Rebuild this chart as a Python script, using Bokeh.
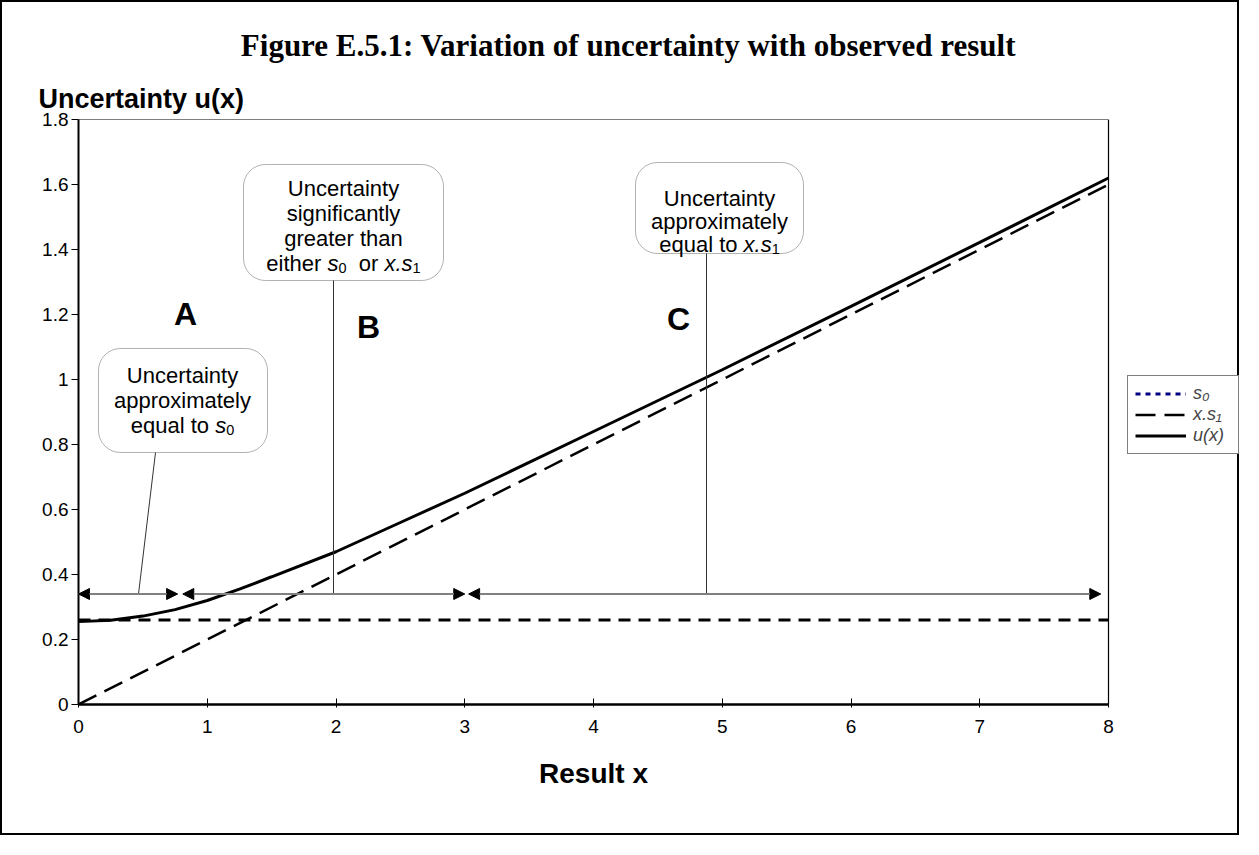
from bokeh.plotting import figure
from bokeh.models import (Label, Arrow, NormalHead, BoxAnnotation, Legend, LegendItem,
                          FixedTicker, Range1d, Title)
from bokeh.embed import file_html
from bokeh.resources import INLINE

# ---------------- data ----------------
x_vals = [0.0, 0.25, 0.5, 0.75, 1.0, 1.25, 1.5, 2.0, 2.5, 3.0, 3.5, 4.0, 5.0, 6.0, 7.0, 8.0]
u_vals = [0.255, 0.259, 0.272, 0.292, 0.32, 0.355, 0.393, 0.47, 0.56, 0.65, 0.745, 0.84, 1.03, 1.225, 1.422, 1.62]

s0_x = [0.0, 8.0]
s0_y = [0.26, 0.26]

xs1_x = [0, 1, 2, 3, 4, 5, 6, 7, 8]
xs1_y = [0.0, 0.2, 0.4, 0.6, 0.8, 1.0, 1.2, 1.4, 1.6]

x_ticks = [0, 1, 2, 3, 4, 5, 6, 7, 8]
x_tick_labels = ["0", "1", "2", "3", "4", "5", "6", "7", "8"]
y_ticks = [0, 0.2, 0.4, 0.6, 0.8, 1.0, 1.2, 1.4, 1.6, 1.8]
y_tick_labels = ["0", "0.2", "0.4", "0.6", "0.8", "1", "1.2", "1.4", "1.6", "1.8"]

chart_title = "Figure E.5.1: Variation of uncertainty with observed result"
y_title = "Uncertainty u(x)"
x_title = "Result x"
legend_labels = ["s\u2080", "x.s\u2081", "u(x)"]
region_letters = ["A", "B", "C"]
region_starts = [0.0, 0.81, 3.03]
region_ends = [0.77, 3.0, 7.94]
arrow_level = 0.34

X_MIN, X_MAX = x_ticks[0], x_ticks[-1]
Y_MIN, Y_MAX = y_ticks[0], y_ticks[-1]

# ---------------- layout helpers (picture pixel -> data) ----------------
FL, FR, FT, FB = 78, 1108, 119, 704        # plot-area edges in the picture
XU = (FR - FL) / (X_MAX - X_MIN)
YU = (FB - FT) / (Y_MAX - Y_MIN)


def px2x(px):
    return X_MIN + (px - FL) / XU


def py2y(py):
    return Y_MIN + (FB - py) / YU


W, H = 1239, 835
OFF = 2            # canvas offset inside the 2px border
FR_EXT = 1239      # the drawing frame reaches further right so the key can sit there

p = figure(width=W, height=H, output_backend="svg", toolbar_location=None, title=None,
           x_range=Range1d(X_MIN, px2x(FR_EXT)), y_range=Range1d(Y_MIN, Y_MAX),
           min_border_left=FL - OFF, min_border_right=W - (FR_EXT - OFF),
           min_border_top=FT - OFF, min_border_bottom=H - (FB - OFF))
p.styles = {"border": "2px solid black"}
p.background_fill_color = "white"
p.border_fill_color = "white"
p.outline_line_color = None
p.xgrid.visible = False
p.ygrid.visible = False

# ---------------- text metrics ----------------
REG = {' ': 278, '.': 278, ':': 278, '(': 333, ')': 333, '0': 556, '1': 556,
       'a': 556, 'b': 556, 'c': 500, 'd': 556, 'e': 556, 'f': 278, 'g': 556, 'h': 556,
       'i': 222, 'l': 222, 'm': 833, 'n': 556, 'o': 556, 'p': 556, 'q': 556, 'r': 333,
       's': 500, 't': 278, 'u': 556, 'x': 500, 'y': 500, 'U': 722, 'R': 722}
BLD = {' ': 278, 'R': 722, 'e': 556, 's': 556, 'u': 611, 'l': 278, 't': 333, 'x': 556}
SANS = "Liberation Sans"


def tw(s, size, table=REG):
    return sum(table.get(ch, 556) for ch in s) / 1000.0 * size


# titles (stacked outward from the frame)
TITLE_SIZE = 31
title_w = 25.14 * TITLE_SIZE
p.add_layout(Title(text=y_title, align="left", offset=38 - FL, standoff=11,
                   text_font=SANS, text_font_style="bold",
                   text_font_size="27px", text_color="black"), "above")
p.add_layout(Title(text=chart_title, align="left", offset=630 - title_w / 2 - FL, standoff=27,
                   text_font="Liberation Serif", text_font_style="bold",
                   text_font_size=f"{TITLE_SIZE}px", text_color="black"), "above")

# axes
p.xaxis.bounds = (X_MIN, X_MAX)
p.xaxis.ticker = FixedTicker(ticks=x_ticks)
p.xaxis.major_label_overrides = {t: l for t, l in zip(x_ticks, x_tick_labels)}
p.yaxis.ticker = FixedTicker(ticks=y_ticks)
p.yaxis.major_label_overrides = {t: l for t, l in zip(y_ticks, y_tick_labels)}
for ax in (p.xaxis, p.yaxis):
    ax.major_label_text_font = SANS
    ax.major_label_text_font_size = "19px"
    ax.major_label_text_color = "black"
    ax.minor_tick_line_color = None
    ax.major_tick_line_color = "black"
    ax.axis_line_color = "black"
p.xaxis.axis_line_width = 2.5
p.xaxis.major_tick_in = 6
p.xaxis.major_tick_out = 3
p.xaxis.major_label_standoff = 12
p.yaxis.axis_line_width = 2
p.yaxis.major_tick_in = 0
p.yaxis.major_tick_out = 7
p.yaxis.major_label_standoff = 3

XT_SIZE = 28
p.add_layout(Title(text=x_title, align="left",
                   offset=(FL + FR) / 2 - tw(x_title, XT_SIZE, BLD) / 2 - FL, standoff=40,
                   text_font=SANS, text_font_style="bold",
                   text_font_size=f"{XT_SIZE}px", text_color="black"), "below")

# plot-area border (top and right edges)
p.segment(x0=[X_MIN, X_MAX], y0=[Y_MAX, Y_MIN], x1=[X_MAX, X_MAX], y1=[Y_MAX, Y_MAX],
          line_color="black", line_width=1.2)

# series
r_s0 = p.line(s0_x, s0_y, line_color="black", line_width=3, line_dash="12 8")
r_xs1 = p.line(xs1_x, xs1_y, line_color="black", line_width=2.5, line_dash="20 9")
r_u = p.line(x_vals, u_vals, line_color="black", line_width=3)
# key swatch for s0 (navy dotted in the legend)
r_s0_key = p.line([s0_x[0]], [float("nan")], line_color="#000080", line_width=3, line_dash="5 5")

legend = Legend(items=[LegendItem(label=legend_labels[0], renderers=[r_s0_key]),
                       LegendItem(label=legend_labels[1], renderers=[r_xs1]),
                       LegendItem(label=legend_labels[2], renderers=[r_u])],
                location=(1127 - FL, FB - 454), orientation="vertical",
                border_line_color="black", border_line_width=1,
                background_fill_color="white", background_fill_alpha=1.0,
                padding=7, spacing=0, margin=0,
                glyph_width=51, glyph_height=19, label_height=19, label_width=38,
                label_standoff=7, label_text_font=SANS,
                label_text_font_size="18px", label_text_font_style="italic")
p.add_layout(legend, "center")


def put(px, py, txt, size, style="normal", align="left", font=SANS):
    p.add_layout(Label(x=px2x(px), y=py2y(py), text=txt, text_font=font,
                       text_font_size=f"{size:.1f}px", text_font_style=style,
                       text_align=align, text_baseline="alphabetic", text_color="black"))


def rich(parts, size, cy, cx):
    """parts: list of (text, kind); kind in n, i, sub. Spaces only advance the pen."""
    widths = [tw(t, size * 0.66 if k == "sub" else size) for t, k in parts]
    x = cx - sum(widths) / 2
    for (t, k), w in zip(parts, widths):
        fs = size * 0.66 if k == "sub" else size
        lead = len(t) - len(t.lstrip(" "))
        core = t.strip(" ")
        if core:
            xx = x + tw(" " * lead, fs)
            if k == "sub":
                put(xx, cy + 0.2 * size, core, fs, "normal")
            else:
                put(xx, cy, core, fs, "italic" if k == "i" else "normal")
        x += w


# ---------------- callout boxes ----------------
BOX = 22
boxes = [(98, 267, 348, 452), (243, 443, 164, 280), (635, 803, 162, 253)]
for l, r, t, b in boxes:
    p.add_layout(BoxAnnotation(left=px2x(l), right=px2x(r), top=py2y(t), bottom=py2y(b),
                               fill_color="white", fill_alpha=1.0, line_color="black",
                               line_width=1, border_radius=22, level="underlay"))

rich([("Uncertainty", "n")], BOX, 375, 182)
rich([("approximately", "n")], BOX, 400, 182)
rich([("equal to ", "n"), ("s", "i"), ("0", "sub")], BOX, 425, 182)

rich([("Uncertainty", "n")], BOX, 188, 343)
rich([("significantly", "n")], BOX, 213, 343)
rich([("greater than", "n")], BOX, 238, 343)
rich([("either ", "n"), ("s", "i"), ("0", "sub"), ("  or ", "n"), ("x.s", "i"), ("1", "sub")],
     BOX, 263, 343)

rich([("Uncertainty", "n")], BOX, 198, 719)
rich([("approximately", "n")], BOX, 221, 719)
rich([("equal to ", "n"), ("x.s", "i"), ("1", "sub")], BOX, 244, 719)

# leader lines
p.segment(x0=[px2x(155), px2x(333), px2x(706)], y0=[py2y(452), py2y(280), py2y(253)],
          x1=[px2x(138), px2x(333), px2x(706)], y1=[arrow_level, arrow_level, arrow_level],
          line_color="#333333", line_width=1)

# region arrows
for xs, xe in zip(region_starts, region_ends):
    p.add_layout(Arrow(start=NormalHead(size=11, fill_color="black", line_color="black"),
                       end=NormalHead(size=11, fill_color="black", line_color="black"),
                       x_start=xs, y_start=arrow_level, x_end=xe, y_end=arrow_level,
                       line_color="#808080", line_width=2))

# region letters
for letter, (lx, ly) in zip(region_letters, [(185, 313), (368, 326), (678, 318)]):
    put(lx, ly, letter, 32, "bold", align="center")

open("out.html", "w").write(file_html(p, INLINE))
